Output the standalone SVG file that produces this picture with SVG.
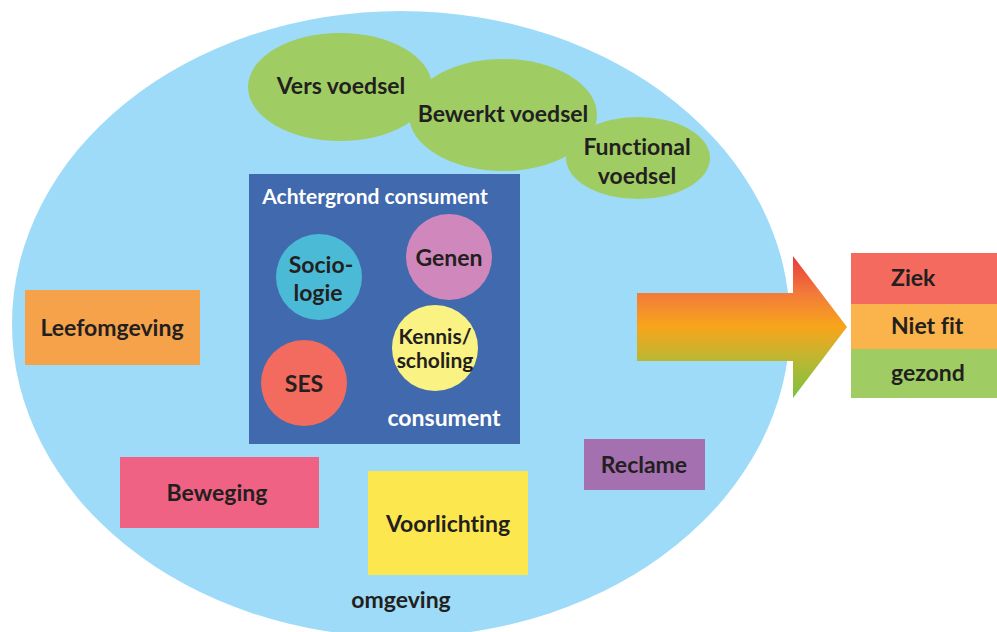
<svg xmlns="http://www.w3.org/2000/svg" width="997" height="632" viewBox="0 0 997 632">
<style>
.t{font-family:Lato,"Open Sans","Liberation Sans",sans-serif;font-weight:bold;fill:#231f20;text-anchor:middle;font-variant-ligatures:none}
.w{fill:#ffffff}
.s20{font-size:23px}
.s18{font-size:21px}
.l{text-anchor:start}
</style>
<defs>
<linearGradient id="ag" gradientUnits="userSpaceOnUse" x1="0" y1="256" x2="0" y2="398">
<stop offset="0" stop-color="#e8383d"/>
<stop offset="0.26" stop-color="#f27a3a"/>
<stop offset="0.5" stop-color="#f8a51b"/>
<stop offset="0.74" stop-color="#b9b833"/>
<stop offset="1" stop-color="#7cc142"/>
</linearGradient>
</defs>
<rect width="997" height="632" fill="#ffffff"/>
<g id="omgeving">
<ellipse cx="401" cy="324" rx="389" ry="313" fill="#9edbf8"/>
<text class="t s20" x="401" y="608">omgeving</text>
</g>
<g id="vers-voedsel">
<ellipse cx="340" cy="87" rx="92" ry="54" fill="#a0cd63"/>
<text class="t s20" x="341" y="94">Vers voedsel</text>
</g>
<g id="bewerkt-voedsel">
<ellipse cx="503" cy="115" rx="94" ry="56" fill="#a0cd63"/>
<text class="t s20" x="503" y="122">Bewerkt voedsel</text>
</g>
<g id="functional-voedsel">
<ellipse cx="638" cy="158" rx="72" ry="41" fill="#a0cd63"/>
<text class="t s20" x="637" y="155">Functional</text>
<text class="t s20" x="637" y="184">voedsel</text>
</g>
<g id="consument">
<rect x="249" y="174" width="271" height="270" fill="#4169ad"/>
<text class="t w s18" x="375" y="204">Achtergrond consument</text>
<text class="t w s20" x="444" y="426">consument</text>
</g>
<g id="sociologie">
<circle cx="319" cy="277" r="43" fill="#4bbad7"/>
<text class="t s20" x="321" y="273">Socio-</text>
<text class="t s20" x="318" y="301">logie</text>
</g>
<g id="genen">
<circle cx="449" cy="257" r="43" fill="#d088bc"/>
<text class="t s20" x="449" y="266">Genen</text>
</g>
<g id="kennis">
<circle cx="435" cy="348" r="43" fill="#fbf284"/>
<text class="t s18" x="435" y="344">Kennis/</text>
<text class="t s18" x="435" y="368">scholing</text>
</g>
<g id="ses">
<circle cx="304" cy="383" r="43" fill="#f26b5e"/>
<text class="t s20" x="304" y="392">SES</text>
</g>
<g id="leefomgeving">
<rect x="25" y="290" width="175" height="75" fill="#f6a24a"/>
<text class="t s20" x="112" y="336">Leefomgeving</text>
</g>
<g id="beweging">
<rect x="120" y="457" width="199" height="71" fill="#f06283"/>
<text class="t s20" x="217" y="501">Beweging</text>
</g>
<g id="voorlichting">
<rect x="368" y="471" width="160" height="104" fill="#fde74e"/>
<text class="t s20" x="448" y="532">Voorlichting</text>
</g>
<g id="reclame">
<rect x="584" y="439" width="121" height="51" fill="#a570b0"/>
<text class="t s20" x="644" y="473">Reclame</text>
</g>
<g id="connectors">
<path d="M637,293 H793 V256 L847,327 L793,398 V361 H637 Z" fill="url(#ag)"/>
</g>
<g id="ziek">
<rect x="851" y="253" width="146" height="51" fill="#f46a5f"/>
<text class="t s20 l" x="891" y="286">Ziek</text>
</g>
<g id="niet-fit">
<rect x="851" y="304" width="146" height="45" fill="#fbb34b"/>
<text class="t s20 l" x="891" y="334">Niet fit</text>
</g>
<g id="gezond">
<rect x="851" y="349" width="146" height="49" fill="#a0cd63"/>
<text class="t s20 l" x="891" y="381">gezond</text>
</g>
</svg>
